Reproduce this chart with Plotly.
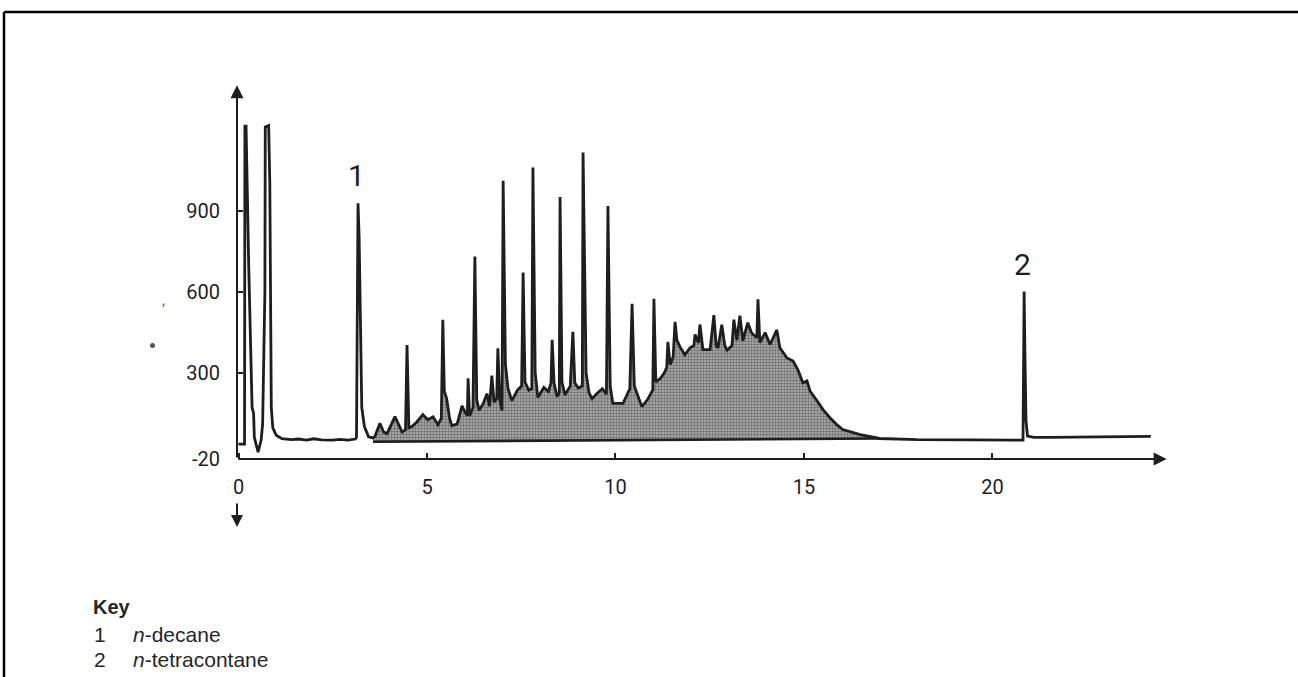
import numpy as np
import plotly.graph_objects as go

# ---------------- data ----------------
time_min = [
    0.00, 0.16, 0.17, 0.20, 0.27, 0.36, 0.40, 0.42, 0.52, 0.60, 0.64, 0.68, 0.70, 0.71, 0.80, 0.83,
    0.87, 0.91, 1.00, 1.15, 1.40, 1.60, 1.80, 2.00, 2.20, 2.50, 2.70, 2.90, 3.10, 3.13, 3.17, 3.20,
    3.23, 3.27, 3.34, 3.45, 3.57, 3.62, 3.75, 3.85, 3.94, 4.15, 4.34, 4.43, 4.47, 4.52, 4.60, 4.73,
    4.89, 5.02, 5.16, 5.29, 5.38, 5.42, 5.46, 5.52, 5.60, 5.66, 5.80, 5.93, 6.02, 6.07, 6.09, 6.13,
    6.22, 6.27, 6.32, 6.38, 6.49, 6.59, 6.66, 6.72, 6.78, 6.85, 6.88, 6.93, 6.99, 7.02, 7.08, 7.15,
    7.25, 7.40, 7.51, 7.55, 7.60, 7.70, 7.78, 7.81, 7.87, 7.94, 8.10, 8.22, 8.29, 8.32, 8.37, 8.45,
    8.51, 8.53, 8.58, 8.66, 8.80, 8.87, 8.92, 9.01, 9.12, 9.14, 9.22, 9.30, 9.38, 9.50, 9.65, 9.76,
    9.80, 9.86, 9.93, 10.20, 10.38, 10.44, 10.50, 10.70, 10.85, 10.99, 11.02, 11.07, 11.20, 11.30,
    11.36, 11.39, 11.45, 11.53, 11.58, 11.63, 11.71, 11.84, 11.98, 12.08, 12.11, 12.20, 12.24, 12.32,
    12.51, 12.61, 12.67, 12.72, 12.82, 12.90, 12.96, 13.09, 13.14, 13.22, 13.30, 13.38, 13.51, 13.60,
    13.65, 13.75, 13.78, 13.83, 13.97, 14.10, 14.28, 14.36, 14.55, 14.71, 14.84, 14.97, 15.08, 15.16,
    15.35, 15.51, 15.69, 15.87, 16.03, 16.27, 16.49, 16.80, 17.00, 18.00, 19.00, 20.20, 20.81, 20.83,
    20.84, 20.86, 20.89, 20.93, 21.10, 21.50, 22.50, 23.50, 24.20,
]
signal = [
    35, 35, 1213, 1213, 700, 170, 150, 60, 5, 50, 110, 580, 600, 1210, 1215, 1000,
    170, 95, 68, 55, 52, 54, 50, 55, 51, 50, 53, 50, 54, 60, 927, 800,
    520, 170, 100, 62, 58, 64, 112, 80, 74, 137, 80, 88, 402, 95, 100, 117,
    144, 125, 136, 107, 130, 496, 230, 205, 130, 103, 110, 177, 150, 140, 279, 139,
    170, 730, 200, 160, 185, 222, 175, 289, 190, 205, 390, 200, 160, 1010, 330, 240,
    196, 235, 250, 671, 265, 235, 240, 1059, 300, 208, 245, 230, 262, 421, 262, 211,
    225, 950, 265, 217, 250, 451, 262, 243, 250, 1115, 300, 225, 203, 222, 240, 220,
    917, 250, 186, 186, 240, 555, 250, 174, 200, 236, 573, 265, 280, 300,
    320, 414, 330, 358, 488, 420, 395, 366, 392, 400, 441, 410, 478, 385,
    385, 513, 400, 391, 477, 400, 383, 400, 496, 420, 511, 418, 485, 450,
    441, 430, 571, 411, 448, 404, 458, 392, 354, 343, 310, 262, 269, 232,
    195, 162, 133, 107, 89, 78, 70, 62, 56, 52, 51, 50, 50, 400,
    600, 380, 120, 65, 60, 60, 62, 63, 64,
]

# lower boundary of the unresolved (shaded) hump
hump_base_time = [3.57, 17.00]
hump_base_signal = [44, 56]

x_tick_vals = [0, 5, 10, 15, 20]
y_tick_vals = [-20, 300, 600, 900]
y_tick_text = ["-20", "300", "600", "900"]

x_range = [-0.04, 24.63]
y_range = [-20, 1365]

# labelled peaks: 1 = n-decane, 2 = n-tetracontane
peak_names = ["1", "2"]
peak_label_time = [3.17, 20.84]
key_numbers = ["1", "2"]
key_names = ["<i>n</i>-decane", "<i>n</i>-tetracontane"]

# ---------------- figure ----------------
INK = "#1e1e1e"
FIG_W, FIG_H = 1298, 677
L, R, T, B = 237, 1167, 85, 459   # plot area in pixels
W, H = R - L, B - T


def pxx(px):
    return (px - L) / W


def pxy(py):
    return (B - py) / H


t = np.array(time_min)
s = np.array(signal)
mask = (t >= hump_base_time[0]) & (t <= hump_base_time[-1])

fig = go.Figure()
# shaded hump
fig.add_trace(go.Scatter(x=hump_base_time, y=hump_base_signal, mode="lines",
                         line=dict(width=0, color=INK), hoverinfo="skip", showlegend=False))
fig.add_trace(go.Scatter(x=t[mask], y=s[mask], mode="lines", line=dict(width=0, color=INK),
                         fill="tonexty", fillcolor="#8c8c8c",
                         fillpattern=dict(shape=".", fgcolor="#262626", bgcolor="#b4b4b4",
                                          size=3, solidity=0.5),
                         hoverinfo="skip", showlegend=False))
fig.add_trace(go.Scatter(x=hump_base_time, y=hump_base_signal, mode="lines",
                         line=dict(width=2.6, color=INK), hoverinfo="skip", showlegend=False))
# chromatogram trace
fig.add_trace(go.Scatter(x=t, y=s, mode="lines", line=dict(width=2.8, color=INK),
                         showlegend=False))

tick_font = dict(family="Roboto, DejaVu Sans, sans-serif", size=20, color=INK)
fig.update_xaxes(range=x_range, showgrid=False, zeroline=False, showline=False,
                 ticks="inside", ticklen=6, tickwidth=2, tickcolor=INK,
                 tickvals=x_tick_vals, tickfont=tick_font, ticklabelstandoff=14)
fig.update_yaxes(range=y_range, showgrid=False, zeroline=False, showline=False,
                 ticks="inside", ticklen=6, tickwidth=2, tickcolor=INK,
                 tickvals=y_tick_vals, ticktext=y_tick_text, tickfont=tick_font,
                 ticklabelstandoff=16)

ann = []
# axis lines with arrowheads
ann.append(dict(x=x_range[0], y=y_range[1] - 1, ax=x_range[0], ay=y_range[0],
                xref="x", yref="y", axref="x", ayref="y", text="", showarrow=True,
                arrowhead=2, arrowsize=1.3, arrowwidth=2, arrowcolor=INK))
ann.append(dict(x=x_range[1] - 0.01, y=y_range[0], ax=x_range[0], ay=y_range[0],
                xref="x", yref="y", axref="x", ayref="y", text="", showarrow=True,
                arrowhead=2, arrowsize=1.3, arrowwidth=2, arrowcolor=INK))
# injection arrow below t = 0
ann.append(dict(x=x_range[0], y=pxy(527), xref="x", yref="paper", ax=0, ay=-25,
                text="", showarrow=True, arrowhead=2, arrowsize=1.2, arrowwidth=2,
                arrowcolor=INK))
# peak labels
for name, pt in zip(peak_names, peak_label_time):
    top = s[np.argmin(np.abs(t - pt))]
    ann.append(dict(x=pt - 0.04, y=top, xref="x", yref="y", text=name, showarrow=False,
                    yanchor="bottom", yshift=8,
                    font=dict(family="Roboto, DejaVu Sans, sans-serif", size=30, color=INK)))
# scan speck left of the y axis
ann.append(dict(x=pxx(160), y=pxy(299), xref="paper", yref="paper", text=",",
                showarrow=False, font=dict(size=14, color="#444")))
# key
key_font = dict(family="Liberation Sans, Arial, sans-serif", size=21, color="#262626")
ann.append(dict(x=pxx(91), y=pxy(607), xref="paper", yref="paper", text="<b>Key</b>",
                showarrow=False, xanchor="left", yanchor="middle",
                font=dict(family="Liberation Sans, Arial, sans-serif", size=20, color="#262626")))
for i, (num, name) in enumerate(zip(key_numbers, key_names)):
    ypix = 634 + 25 * i
    ann.append(dict(x=pxx(92), y=pxy(ypix), xref="paper", yref="paper", text=num,
                    showarrow=False, xanchor="left", yanchor="middle", font=key_font))
    ann.append(dict(x=pxx(131), y=pxy(ypix), xref="paper", yref="paper", text=name,
                    showarrow=False, xanchor="left", yanchor="middle", font=key_font))

fig.update_layout(
    width=FIG_W, height=FIG_H,
    margin=dict(l=L, r=FIG_W - R, t=T, b=FIG_H - B, pad=0),
    paper_bgcolor="white", plot_bgcolor="white",
    annotations=ann,
    shapes=[
        dict(type="line", xref="paper", yref="paper", x0=pxx(4), x1=pxx(1300),
             y0=pxy(12), y1=pxy(12), line=dict(color="black", width=2.5)),
        dict(type="line", xref="paper", yref="paper", x0=pxx(4), x1=pxx(4),
             y0=pxy(12), y1=pxy(680), line=dict(color="black", width=2.5)),
        dict(type="circle", xref="paper", yref="paper", x0=pxx(150), x1=pxx(155),
             y0=pxy(343), y1=pxy(348), fillcolor="#555", line=dict(width=0)),
    ],
)

fig.write_html("out.html", config={"displayModeBar": False},
               post_script="document.body.style.margin='0';document.body.style.overflow='hidden';")
